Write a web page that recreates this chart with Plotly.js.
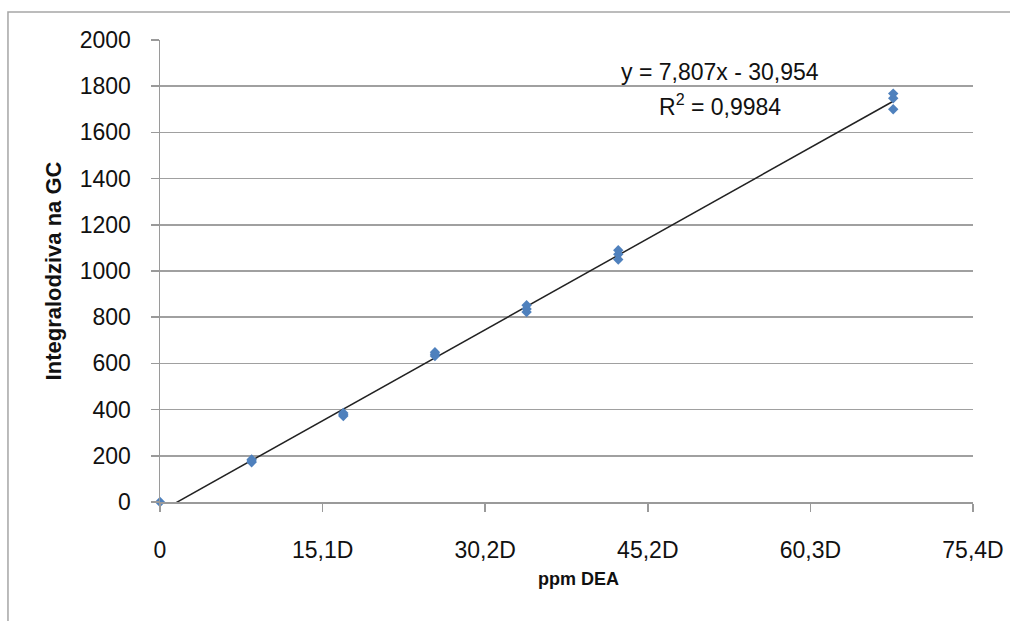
<!DOCTYPE html>
<html>
<head>
<meta charset="utf-8">
<script src="https://cdn.plot.ly/plotly-3.0.1.min.js"></script>
<style>html,body{margin:0;padding:0;background:#fff;}#chart{width:1010px;height:621px;}</style>
</head>
<body>
<div id="chart"></div>
<script>
// Measurements (ppm DEA, displayed scale) and GC integrals
const ppmDEA = [0, 8.5, 8.5, 8.5, 17, 17, 17, 25.5, 25.5, 25.5, 34, 34, 34, 42.5, 42.5, 42.5, 68, 68, 68];
const integrals = [0, 172, 178, 184, 372, 378, 385, 632, 640, 648, 822, 836, 852, 1050, 1072, 1090, 1700, 1748, 1768];

const xTickVals = [0, 15.08, 30.16, 45.24, 60.32, 75.4];
const xTickText = ['0', '15,1D', '30,2D', '45,2D', '60,3D', '75,4D'];
const yTickVals = [0, 200, 400, 600, 800, 1000, 1200, 1400, 1600, 1800, 2000];

const xTitle = 'ppm DEA';
const yTitle = 'Integralodziva na GC';
const equationText = 'y = 7,807x - 30,954';
const r2Text = 'R<sup>2</sup> = 0,9984';

// Least-squares trendline computed from the data
const n = ppmDEA.length;
const mx = ppmDEA.reduce((a, b) => a + b, 0) / n;
const my = integrals.reduce((a, b) => a + b, 0) / n;
let sxy = 0, sxx = 0;
for (let i = 0; i < n; i++) { sxy += (ppmDEA[i] - mx) * (integrals[i] - my); sxx += (ppmDEA[i] - mx) ** 2; }
const slope = sxy / sxx;
const intercept = my - slope * mx;
const xMin = Math.min(...ppmDEA), xMax = Math.max(...ppmDEA);
const trendX = [xMin, xMax];
const trendY = trendX.map(x => slope * x + intercept);

const fam = 'Liberation Sans, Arial, sans-serif';
const tickFont = {family: fam, size: 23, color: '#111'};

const data = [
  {x: trendX, y: trendY, mode: 'lines', type: 'scatter', line: {color: '#222', width: 1.5}, hoverinfo: 'skip', showlegend: false},
  {x: ppmDEA, y: integrals, mode: 'markers', type: 'scatter', marker: {color: '#4f81bd', size: 8, symbol: 'diamond'}, showlegend: false, cliponaxis: false}
];

const layout = {
  width: 1010, height: 621,
  margin: {l: 160, r: 37, t: 40, b: 119},
  paper_bgcolor: '#fff', plot_bgcolor: '#fff',
  showlegend: false,
  xaxis: {
    range: [0, 75.4], tickvals: xTickVals, ticktext: xTickText,
    showgrid: false, zeroline: false,
    showline: true, linecolor: '#9a9a9a', linewidth: 1.5,
    ticks: 'outside', ticklen: 8, tickcolor: '#9a9a9a', tickwidth: 1.5,
    tickfont: tickFont, ticklabelstandoff: 19
  },
  yaxis: {
    range: [0, 2000], tickvals: yTickVals,
    showgrid: true, gridcolor: '#a0a0a0', gridwidth: 1.5, zeroline: false,
    showline: true, linecolor: '#9a9a9a', linewidth: 1.5,
    ticks: 'outside', ticklen: 8, tickcolor: '#9a9a9a', tickwidth: 1.5,
    tickfont: tickFont, ticklabelstandoff: 15,
    title: {text: yTitle, font: {family: fam, size: 22, color: '#111', weight: 'bold'}, standoff: 12}
  },
  annotations: [
    {xref: 'paper', yref: 'paper', x: 0.515, y: -0.167, text: xTitle, showarrow: false, font: {family: fam, size: 18, color: '#111', weight: 'bold'}, xanchor: 'center', yanchor: 'middle'},
    {xref: 'paper', yref: 'paper', x: 0.689, y: 0.931, text: equationText, showarrow: false, font: tickFont, xanchor: 'center', yanchor: 'middle'},
    {xref: 'paper', yref: 'paper', x: 0.689, y: 0.859, text: r2Text, showarrow: false, font: tickFont, xanchor: 'center', yanchor: 'middle'}
  ],
  shapes: [
    {type: 'rect', xref: 'paper', yref: 'paper', x0: -0.187, x1: 1.06, y0: -0.3, y1: 1.0606, line: {color: '#a6a6a6', width: 1.5}, fillcolor: 'rgba(0,0,0,0)', layer: 'below'}
  ]
};

Plotly.newPlot('chart', data, layout, {displayModeBar: false, staticPlot: true});
</script>
</body>
</html>
